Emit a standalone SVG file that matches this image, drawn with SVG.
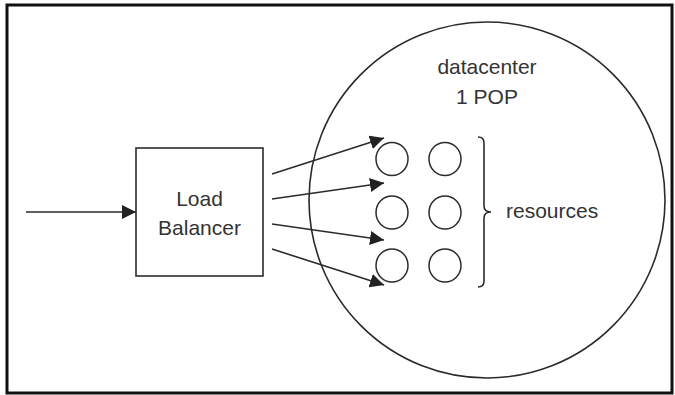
<svg xmlns="http://www.w3.org/2000/svg" width="675" height="395" viewBox="0 0 675 395">
  <style>
    .txt { font-family: "Liberation Sans", Arial, sans-serif; font-size: 21px; fill: #333; }
    .ln { fill: none; stroke: #2b2b2b; stroke-width: 1.6; }
    .res { fill: #fff; stroke: #2b2b2b; stroke-width: 1.5; }
  </style>
  <defs>
    <marker id="arr" markerUnits="userSpaceOnUse" markerWidth="15" markerHeight="14" refX="14" refY="7" orient="auto">
      <path d="M0,0 L14,7 L0,14 z" fill="#222"/>
    </marker>
  </defs>
  <rect x="0" y="0" width="675" height="395" fill="#fff"/>
  <rect id="frame" x="7" y="5" width="665" height="388" fill="none" stroke="#111" stroke-width="3"/>

  <g id="datacenter">
    <circle cx="487" cy="200" r="178" class="ln" stroke-width="1.4"/>
    <text class="txt" x="487" y="74" text-anchor="middle">datacenter</text>
    <text class="txt" x="487" y="104" text-anchor="middle">1 POP</text>
  </g>

  <g id="load-balancer">
    <rect x="136" y="148" width="127" height="128" class="ln" fill="#fff"/>
    <text class="txt" x="199.5" y="206" text-anchor="middle">Load</text>
    <text class="txt" x="199.5" y="235" text-anchor="middle">Balancer</text>
  </g>

  <g id="resources">
    <ellipse cx="392" cy="159" rx="16" ry="16.5" class="res"/>
    <ellipse cx="445" cy="159" rx="16" ry="16.5" class="res"/>
    <ellipse cx="392" cy="212.5" rx="16" ry="16.5" class="res"/>
    <ellipse cx="445" cy="212.5" rx="16" ry="16.5" class="res"/>
    <ellipse cx="392" cy="265.5" rx="16" ry="16.5" class="res"/>
    <ellipse cx="445" cy="265.5" rx="16" ry="16.5" class="res"/>
    <path class="ln" d="M478,137 Q484,137 484,143 L484,206 Q484,212 491,212 Q484,212 484,218 L484,281 Q484,287 478,287"/>
    <text class="txt" x="506" y="218">resources</text>
  </g>

  <g id="connectors" class="ln" stroke="#222">
    <line x1="26" y1="212" x2="136" y2="212" marker-end="url(#arr)"/>
    <line x1="272" y1="174" x2="384" y2="138" marker-end="url(#arr)"/>
    <line x1="272" y1="199" x2="384" y2="183" marker-end="url(#arr)"/>
    <line x1="272" y1="224" x2="384" y2="240" marker-end="url(#arr)"/>
    <line x1="272" y1="249" x2="384" y2="285" marker-end="url(#arr)"/>
  </g>
</svg>
